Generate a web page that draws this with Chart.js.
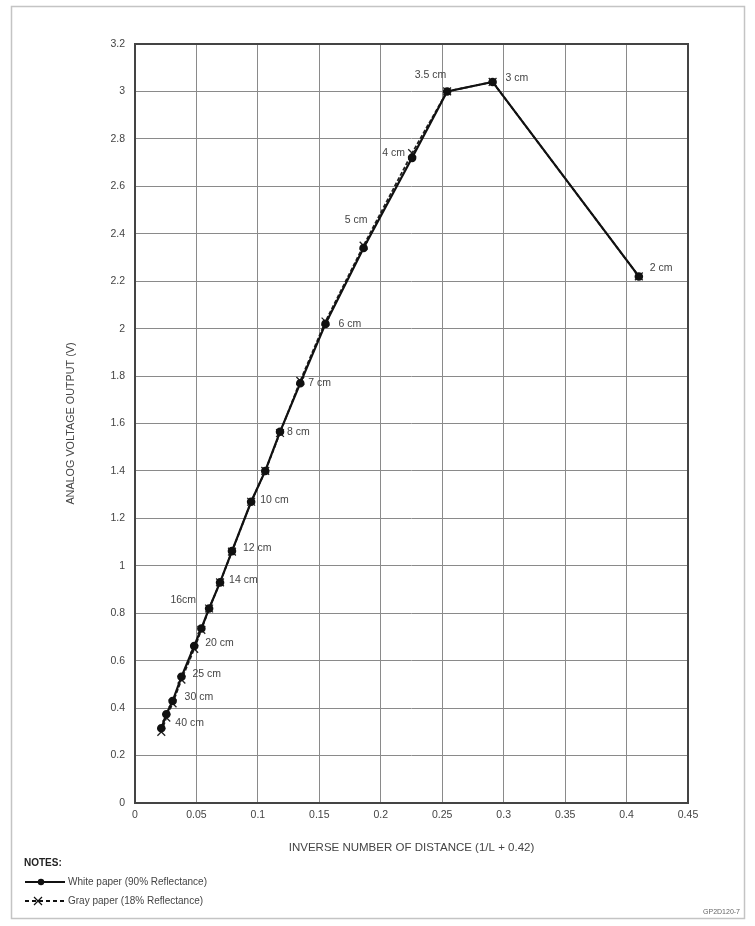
<!DOCTYPE html>
<html>
<head>
<meta charset="utf-8">
<script src="https://cdn.jsdelivr.net/npm/chart.js@4"></script>
<style>
  html, body { margin: 0; padding: 0; background: #fff; }
  #wrap { width: 755px; height: 926px; position: relative; }
</style>
</head>
<body>
<div id="wrap"><canvas id="c" width="755" height="926"></canvas></div>
<script>
// ---- data ----
const distanceLabels = ['40 cm','','30 cm','25 cm','20 cm','','16cm','14 cm','12 cm','10 cm','','8 cm','7 cm','6 cm','5 cm','4 cm','3.5 cm','3 cm','2 cm'];
const inverseDistance = [0.0214,0.0255,0.0306,0.0378,0.0482,0.054,0.0603,0.0692,0.0789,0.0945,0.106,0.118,0.1345,0.155,0.186,0.2255,0.254,0.291,0.41];
const whitePaperVolts = [0.315,0.374,0.43,0.532,0.662,0.736,0.82,0.93,1.062,1.27,1.40,1.565,1.77,2.02,2.34,2.72,3.00,3.04,2.22];
const grayPaperVolts  = [0.30,0.36,0.42,0.52,0.65,0.73,0.82,0.93,1.06,1.27,1.40,1.56,1.78,2.03,2.35,2.74,3.00,3.04,2.22];
const xTicks = [0,0.05,0.1,0.15,0.2,0.25,0.3,0.35,0.4,0.45];
const yTicks = [0,0.2,0.4,0.6,0.8,1,1.2,1.4,1.6,1.8,2,2.2,2.4,2.6,2.8,3,3.2];

// label placement styles (offset from the point, alignment)
const labelStyle = [
  [14,-5,'left'], null, [12,-4,'left'], [11,-3,'left'], [11,-3,'left'], null,
  [-13,-8,'right'], [9,-2,'left'], [11,-3,'left'], [9,-2,'left'], null,
  [7,0,'left'], [8,0,'left'], [13,0,'left'], [4,-28,'right'], [-7,-5,'right'],
  [-1,-16,'right'], [13,-4,'left'], [11,-8,'left']
];

const FONT = "'Liberation Sans', Arial, Helvetica, sans-serif";
const TXT = '#444';

const whiteData = inverseDistance.map((x, i) => ({x, y: whitePaperVolts[i]}));
const grayData  = inverseDistance.map((x, i) => ({x, y: grayPaperVolts[i]}));

const decor = {
  id: 'decor',
  beforeDraw(chart) {
    const ctx = chart.ctx;
    ctx.save();
    ctx.fillStyle = '#fff';
    ctx.fillRect(0, 0, chart.width, chart.height);
    ctx.strokeStyle = '#c4c4c4';
    ctx.lineWidth = 1.5;
    ctx.strokeRect(11.5, 6.5, 733, 912);
    ctx.restore();
  },
  afterDraw(chart) {
    const ctx = chart.ctx;
    const a = chart.chartArea;
    ctx.save();
    // plot frame
    ctx.strokeStyle = '#444';
    ctx.lineWidth = 2;
    ctx.strokeRect(a.left, a.top, a.right - a.left, a.bottom - a.top);

    // distance labels
    const meta = chart.getDatasetMeta(0);
    ctx.font = '10.5px ' + FONT;
    ctx.fillStyle = TXT;
    ctx.textBaseline = 'middle';
    meta.data.forEach((pt, i) => {
      const s = labelStyle[i];
      if (!s || !distanceLabels[i]) return;
      ctx.textAlign = s[2];
      ctx.fillText(distanceLabels[i], pt.x + s[0], pt.y + s[1]);
    });

    // notes
    ctx.textAlign = 'left';
    ctx.font = 'bold 10px ' + FONT;
    ctx.fillStyle = '#222';
    ctx.fillText('NOTES:', 24, 863);
    ctx.font = '10px ' + FONT;
    ctx.fillStyle = TXT;
    // legend 1
    ctx.strokeStyle = '#111';
    ctx.lineWidth = 1.8;
    ctx.setLineDash([]);
    ctx.beginPath(); ctx.moveTo(25, 882); ctx.lineTo(65, 882); ctx.stroke();
    ctx.fillStyle = '#111';
    ctx.beginPath(); ctx.arc(41, 882, 3.2, 0, Math.PI * 2); ctx.fill();
    ctx.fillStyle = TXT;
    ctx.fillText('White paper (90% Reflectance)', 68, 882);
    // legend 2
    ctx.setLineDash([4, 3]);
    ctx.beginPath(); ctx.moveTo(25, 901); ctx.lineTo(65, 901); ctx.stroke();
    ctx.setLineDash([]);
    ctx.lineWidth = 1.2;
    ctx.beginPath();
    ctx.moveTo(34, 897); ctx.lineTo(42, 905);
    ctx.moveTo(42, 897); ctx.lineTo(34, 905);
    ctx.stroke();
    ctx.fillText('Gray paper (18% Reflectance)', 68, 901);
    // figure code
    ctx.font = '7px ' + FONT;
    ctx.fillStyle = '#666';
    ctx.textAlign = 'right';
    ctx.fillText('GP2D120-7', 740, 912);
    ctx.restore();
  }
};

new Chart(document.getElementById('c'), {
  type: 'scatter',
  data: {
    datasets: [
      {
        label: 'White paper (90% Reflectance)',
        data: whiteData,
        showLine: true,
        borderColor: '#111',
        borderWidth: 2.2,
        pointStyle: 'circle',
        pointRadius: 3.2,
        pointBackgroundColor: '#111',
        pointBorderColor: '#111',
        tension: 0
      },
      {
        label: 'Gray paper (18% Reflectance)',
        data: grayData,
        showLine: true,
        borderColor: '#222',
        borderWidth: 1.8,
        borderDash: [4, 2],
        pointStyle: 'crossRot',
        pointRadius: 5.5,
        pointBorderWidth: 1.3,
        pointBorderColor: '#222',
        tension: 0
      }
    ]
  },
  options: {
    responsive: false,
    animation: false,
    events: [],
    layout: { padding: { top: 44, right: 67, left: 0, bottom: 0 } },
    plugins: { legend: { display: false }, tooltip: { enabled: false } },
    scales: {
      x: {
        type: 'linear',
        min: 0, max: 0.45,
        afterBuildTicks: (s) => { s.ticks = xTicks.map(v => ({value: v})); },
        afterFit: (s) => { s.height = 123; },
        grid: { color: '#8a8a8a', lineWidth: 1, drawTicks: false },
        border: { display: false },
        ticks: {
          padding: 6,
          color: TXT,
          font: { family: FONT, size: 10.5 },
          maxRotation: 0,
          callback: (v) => String(parseFloat(v.toFixed(2)))
        },
        title: {
          display: true,
          text: 'INVERSE NUMBER OF DISTANCE (1/L + 0.42)',
          color: TXT,
          font: { family: FONT, size: 11.5 },
          padding: { top: 0, bottom: 71 }
        }
      },
      y: {
        type: 'linear',
        min: 0, max: 3.2,
        afterBuildTicks: (s) => { s.ticks = yTicks.map(v => ({value: v})); },
        afterFit: (s) => { s.width = 135; },
        grid: { color: '#8a8a8a', lineWidth: 1, drawTicks: false },
        border: { display: false },
        ticks: {
          padding: 10,
          color: TXT,
          font: { family: FONT, size: 10.5 },
          callback: (v) => String(parseFloat(v.toFixed(1)))
        },
        title: {
          display: true,
          text: 'ANALOG VOLTAGE OUTPUT (V)',
          color: TXT,
          font: { family: FONT, size: 10.8 },
          padding: { top: 65, bottom: 0 }
        }
      }
    }
  },
  plugins: [decor]
});
</script>
</body>
</html>
